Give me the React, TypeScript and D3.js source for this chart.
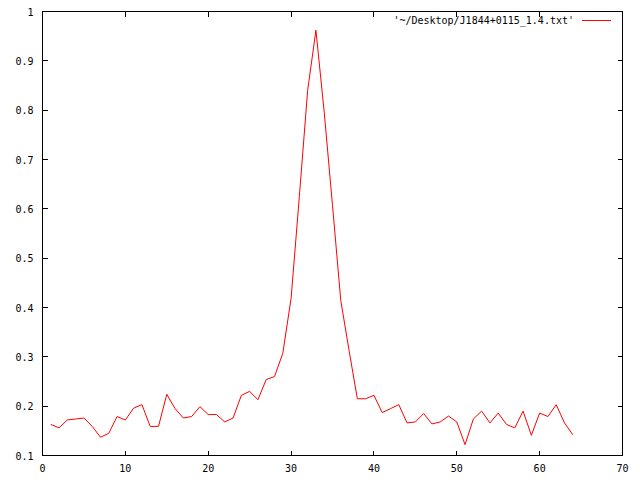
import React from "react";
import * as d3 from "d3";

const xValues: number[] = Array.from({ length: 64 }, (_, i) => i + 1);
const yValues: number[] = [
  0.163, 0.156, 0.172, 0.174, 0.176, 0.159, 0.137, 0.145, 0.179, 0.172,
  0.196, 0.203, 0.159, 0.159, 0.224, 0.195, 0.176, 0.179, 0.199, 0.183,
  0.183, 0.168, 0.176, 0.222, 0.230, 0.213, 0.254, 0.260, 0.307, 0.418,
  0.625, 0.840, 0.962, 0.796, 0.607, 0.414, 0.313, 0.215, 0.215, 0.222,
  0.187, 0.195, 0.203, 0.166, 0.168, 0.185, 0.164, 0.168, 0.180, 0.168,
  0.122, 0.174, 0.190, 0.166, 0.186, 0.163, 0.156, 0.190, 0.141, 0.186,
  0.179, 0.203, 0.166, 0.142,
];
const xTicks: number[] = [0, 10, 20, 30, 40, 50, 60, 70];
const yTicks: number[] = [0.1, 0.2, 0.3, 0.4, 0.5, 0.6, 0.7, 0.8, 0.9, 1];
const legendLabel = "'~/Desktop/J1844+0115_1.4.txt'";

export default function App() {
  const W = 640, H = 480;
  const left = 42.5, right = 622.5, top = 11.5, bottom = 455.5;
  const x = d3.scaleLinear().domain([0, 70]).range([left, right]);
  const y = d3.scaleLinear().domain([0.1, 1]).range([bottom, top]);
  const line = d3.line<number>().x((_, i) => x(xValues[i])).y((d) => y(d));
  const tl = 5;
  const font = "'DejaVu Sans Mono', 'Liberation Mono', monospace";
  return (
    <svg width={W} height={H} style={{ position: "fixed", left: 0, top: 0, background: "#fff" }}>
      <rect x={0} y={0} width={W} height={H} fill="#fff" />
      <g stroke="#000" strokeWidth={1} shapeRendering="crispEdges">
        {xTicks.map((t) => (
          <g key={"x" + t}>
            <line x1={x(t)} x2={x(t)} y1={bottom} y2={bottom - tl} />
            <line x1={x(t)} x2={x(t)} y1={top} y2={top + tl} />
          </g>
        ))}
        {yTicks.map((t) => (
          <g key={"y" + t}>
            <line x1={left} x2={left + tl} y1={y(t)} y2={y(t)} />
            <line x1={right} x2={right - tl} y1={y(t)} y2={y(t)} />
          </g>
        ))}
      </g>
      <g fontFamily={font} fontSize={10} fill="#000">
        {xTicks.map((t) => (
          <text key={"xl" + t} x={x(t)} y={bottom + 16} textAnchor="middle">{t}</text>
        ))}
        {yTicks.map((t) => (
          <text key={"yl" + t} x={left - 9} y={y(t) + 4} textAnchor="end">{String(t)}</text>
        ))}
        <text x={574} y={24} textAnchor="end">{legendLabel}</text>
      </g>
      <line x1={582} x2={611} y1={20.5} y2={20.5} stroke="#ff0000" strokeWidth={1} />
      <path d={line(yValues) || ""} fill="none" stroke="#ff0000" strokeWidth={1} />
      <rect x={left} y={top} width={right - left} height={bottom - top} fill="none" stroke="#000" strokeWidth={1} shapeRendering="crispEdges" />
    </svg>
  );
}
